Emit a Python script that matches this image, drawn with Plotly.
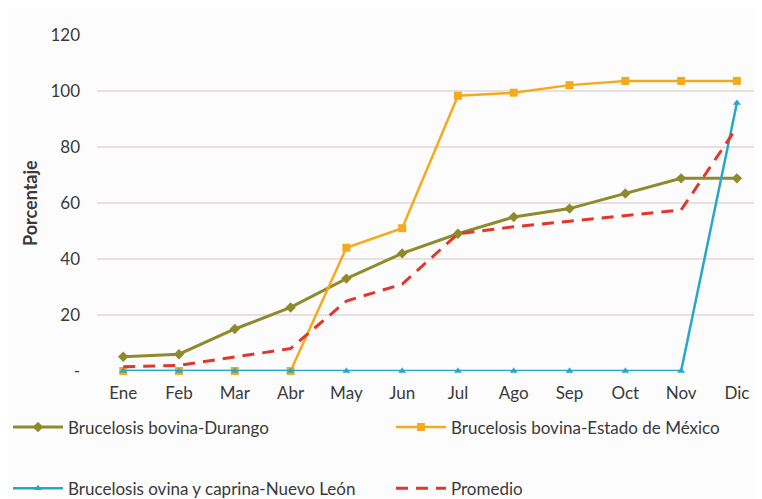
import plotly.graph_objects as go

meses = ["Ene", "Feb", "Mar", "Abr", "May", "Jun", "Jul", "Ago", "Sep", "Oct", "Nov", "Dic"]
durango = [5.1, 6.0, 15.0, 22.7, 33.0, 42.0, 49.0, 55.0, 58.0, 63.4, 68.8, 68.8]
edomex = [0, 0, 0, 0, 44.0, 51.0, 98.3, 99.4, 102.1, 103.6, 103.6, 103.6]
nuevo_leon = [0, 0, 0, 0, 0, 0, 0, 0, 0, 0, 0, 95.7]
promedio = [1.5, 2.0, 5.0, 8.0, 25.0, 31.0, 49.0, 51.5, 53.5, 55.5, 57.5, 87.0]
y_ticks = [0, 20, 40, 60, 80, 100, 120]
y_tick_text = ["-", "20", "40", "60", "80", "100", "120"]

FONT = "Lato, 'Open Sans', sans-serif"
TXT = "#3a3a3a"
OFF = 8  # page body margin offset

fig = go.Figure()
fig.add_trace(go.Scatter(x=meses, y=durango, name="Brucelosis bovina-Durango",
                         mode="lines+markers", line=dict(color="#8f8a2c", width=3),
                         marker=dict(symbol="diamond", size=8), legend="legend",
                         legendgroup="a", cliponaxis=False))
fig.add_trace(go.Scatter(x=meses, y=edomex, name="Brucelosis bovina-Estado de México",
                         mode="lines+markers", line=dict(color="#f5aa1e", width=2.5),
                         marker=dict(symbol="square", size=8), legend="legend2",
                         legendgroup="b", cliponaxis=False))
fig.add_trace(go.Scatter(x=meses, y=nuevo_leon, name="Brucelosis ovina y caprina-Nuevo León",
                         mode="lines+markers", line=dict(color="#27a7c9", width=2.5),
                         marker=dict(symbol="triangle-up", size=7), legend="legend",
                         legendgroup="c", cliponaxis=False))
fig.add_trace(go.Scatter(x=meses, y=promedio, name="Promedio",
                         mode="lines", line=dict(color="#e0372e", width=3, dash="12px,8px"),
                         legend="legend2", legendgroup="d", cliponaxis=False))

leg_common = dict(orientation="v", xref="container", yref="container", xanchor="left",
                  yanchor="middle", y=1 - (458 - OFF) / 499, tracegroupgap=36,
                  bgcolor="rgba(0,0,0,0)", font=dict(size=17, color=TXT), itemwidth=50)

fig.update_layout(
    width=762, height=499,
    margin=dict(l=97 - OFF, r=762 - (97 - OFF) - 665, t=35 - OFF, b=499 - (371 - OFF), autoexpand=False),
    paper_bgcolor="#fcfcfc", plot_bgcolor="#fcfcfc",
    font=dict(family=FONT, size=17, color=TXT),
    xaxis=dict(type="category", range=[-0.47, 11.45], showgrid=False, zeroline=False,
               showline=False, ticks="", ticklabelstandoff=10,
               tickfont=dict(size=17, color=TXT)),
    yaxis=dict(range=[0, 120], tickvals=y_ticks, ticktext=y_tick_text,
               showgrid=True, gridcolor="#e8dfdf", gridwidth=1.5, zeroline=False,
               showline=False, ticks="", ticklabelstandoff=16,
               tickfont=dict(size=17, color=TXT)),
    legend=dict(leg_common, x=0.0),
    legend2=dict(leg_common, x=0.5026),
    annotations=[dict(text="<b>Porcentaje</b>", textangle=-90, xref="paper", yref="paper",
                      x=(30 - 97) / 665, y=0.5, xanchor="center", yanchor="middle",
                      showarrow=False, font=dict(size=18, color=TXT))],
    showlegend=True,
)

fig.write_html("out.html")
